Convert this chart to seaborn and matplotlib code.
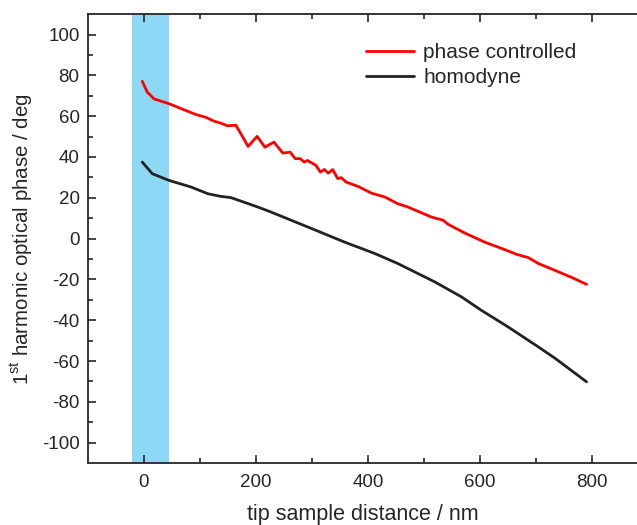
import pandas as pd
import numpy as np
import matplotlib.pyplot as plt
import seaborn as sns

# data
dist_pc = [-3, 6, 18, 45, 72, 93, 110, 125, 137, 149, 164, 173, 186, 202, 216, 232, 248, 261,
           270, 279, 286, 292, 307, 315, 322, 329, 337, 346, 352, 361, 382, 406, 430, 453, 470,
           489, 513, 534, 543, 573, 608, 644, 665, 686, 704, 740, 764, 790]
phase_pc = [77.1, 71.8, 68.5, 66.1, 63.1, 60.8, 59.5, 57.6, 56.6, 55.3, 55.6, 51.4, 45.2, 50.1,
            44.8, 47.3, 41.9, 42.4, 39.2, 39.2, 37.5, 38.3, 35.9, 32.6, 33.9, 32.1, 33.8, 29.4,
            29.9, 27.7, 25.6, 22.3, 20.4, 17.1, 15.6, 13.4, 10.6, 9.0, 7.0, 2.7, -1.7, -5.4,
            -7.7, -9.3, -12.2, -16.3, -19.1, -22.4]

dist_hd = [-3, 15, 45, 84, 114, 137, 155, 173, 203, 227, 304, 358, 412, 453, 519, 567, 602,
           650, 704, 734, 790]
phase_hd = [37.5, 31.8, 28.5, 25.3, 22.0, 20.7, 20.1, 18.4, 15.5, 13.0, 4.4, -1.7, -7.3, -12.2,
            -21.2, -28.6, -35.1, -43.3, -53.1, -58.7, -70.2]

df = pd.concat([
    pd.DataFrame({'dist': dist_pc, 'phase': phase_pc, 'mode': 'phase controlled'}),
    pd.DataFrame({'dist': dist_hd, 'phase': phase_hd, 'mode': 'homodyne'}),
])

sns.set_style('ticks')
plt.rcParams['font.family'] = ['Liberation Sans', 'DejaVu Sans']
plt.rcParams['axes.unicode_minus'] = False
plt.rcParams['mathtext.fontset'] = 'custom'
plt.rcParams['mathtext.rm'] = 'Liberation Sans'

fig = plt.figure(figsize=(6.37, 5.25), dpi=100)
ax = fig.add_axes([0.138, 0.118, 0.862, 0.855])

# shaded contact region
ax.axvspan(-22, 45, color='#8DD8F5', lw=0, zorder=0)

sns.lineplot(data=df, x='dist', y='phase', hue='mode', sort=False,
             palette={'phase controlled': '#FF0000', 'homodyne': '#222222'},
             linewidth=2, ax=ax)

ax.set_xlim(-100, 880)
ax.set_ylim(-110, 110)
ax.set_xticks([0, 200, 400, 600, 800])
ax.set_xticks([100, 300, 500, 700], minor=True)
ax.set_yticks(np.arange(-100, 101, 20))
ax.set_yticks(np.arange(-90, 100, 20), minor=True)

ax.tick_params(which='both', direction='in', top=True, right=False, labelsize=13.5, width=1.2)
ax.tick_params(which='major', length=6, pad=6)
ax.tick_params(axis='x', which='major', pad=8)
ax.tick_params(which='minor', length=3.5)
for s in ['left', 'bottom', 'top']:
    ax.spines[s].set_linewidth(1.3)
ax.spines['right'].set_visible(False)

ax.set_xlabel('tip sample distance / nm', fontsize=15.5, labelpad=9)
ax.set_ylabel(r'1$^{\mathrm{st}}$ harmonic optical phase / deg', fontsize=14.8, labelpad=5)

ax.legend(title=None, frameon=False, fontsize=15, loc='upper left',
          bbox_to_anchor=(0.472, 0.977), handlelength=2.3, handletextpad=0.45, labelspacing=0.3)

plt.savefig('out.png', dpi=100)
